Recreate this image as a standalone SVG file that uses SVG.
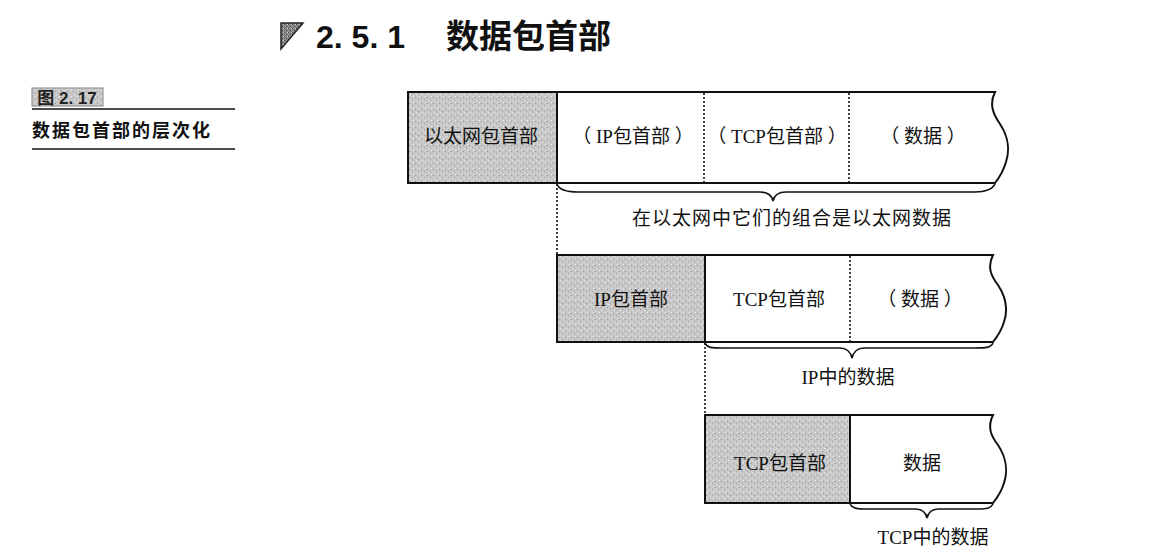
<svg xmlns="http://www.w3.org/2000/svg" width="1149" height="560" viewBox="0 0 1149 560">
<style>
.lbl{font-family:"Liberation Serif","Noto Sans CJK SC",serif;font-size:19px;fill:#111;text-anchor:middle}
.box{stroke:#111;stroke-width:2;fill:#fff}
.hdr{stroke:#111;stroke-width:2;fill:url(#dots)}
.dot{stroke:#111;stroke-width:1.6;stroke-dasharray:2 2;fill:none}
.brace{stroke:#111;stroke-width:1.6;fill:none}
</style>
<defs>
<pattern id="dots" width="6" height="6" patternUnits="userSpaceOnUse">
<rect width="6" height="6" fill="#c8c8c8"/>
<rect x="1" y="1" width="1" height="1" fill="#959595"/>
<rect x="4" y="3" width="1" height="1" fill="#a0a0a0"/>
<rect x="2" y="4" width="1" height="1" fill="#e6e6e6"/>
<rect x="5" y="0" width="1" height="1" fill="#eeeeee"/>
</pattern>
<pattern id="dark" width="4" height="4" patternUnits="userSpaceOnUse">
<rect width="4" height="4" fill="#8a8a8a"/>
<rect x="0" y="0" width="1" height="1" fill="#444"/>
<rect x="2" y="2" width="1" height="1" fill="#444"/>
<rect x="3" y="0" width="1" height="1" fill="#ccc"/>
</pattern>
</defs>
<rect width="1149" height="560" fill="#fff"/>
<g id="title">
<polygon points="281,23 303,23 281,49" fill="url(#dark)" stroke="#222" stroke-width="1.5"/>
<text x="316" y="48" font-family="Liberation Sans,Arial,sans-serif" font-weight="bold" font-size="32" fill="#111">2. 5. 1</text>
<text x="446" y="48" font-family="Noto Sans CJK SC,sans-serif" font-weight="bold" font-size="33" fill="#111">数据包首部</text>
</g>
<g id="caption">
<rect x="32" y="88" width="71" height="18" fill="url(#dots)" stroke="#888" stroke-width="1"/>
<text x="67" y="104" text-anchor="middle" font-family="Liberation Sans,Noto Sans CJK SC,sans-serif" font-weight="bold" font-size="17" fill="#222">图 2. 17</text>
<line x1="32" y1="109" x2="235" y2="109" stroke="#111" stroke-width="1.5"/>
<text x="32" y="137" font-family="Noto Sans CJK SC,sans-serif" font-weight="bold" font-size="18" letter-spacing="2" fill="#111">数据包首部的层次化</text>
<line x1="32" y1="149" x2="235" y2="149" stroke="#111" stroke-width="1.5"/>
</g>
<g id="ethernet-frame">
<path class="box" d="M557,92 H995 C989,104 993,114 1000,124 C1008,136 1010,150 1006,162 C1003,172 999,178 995,183 H557 Z"/>
<rect class="hdr" x="408" y="92" width="149" height="91"/>
<text class="lbl" x="481" y="143">以太网包首部</text>
<text class="lbl" x="633" y="143">（ IP包首部 ）</text>
<text class="lbl" x="777" y="143">（ TCP包首部 ）</text>
<text class="lbl" x="923" y="143">（ 数据 ）</text>
</g>
<g id="ip-packet">
<path class="box" d="M705,255 H993 C987,267 991,276 998,285 C1006,297 1008,310 1004,322 C1001,332 997,337 993,342 H705 Z"/>
<rect class="hdr" x="557" y="255" width="148" height="87"/>
<text class="lbl" x="631" y="306">IP包首部</text>
<text class="lbl" x="779" y="306">TCP包首部</text>
<text class="lbl" x="920" y="306">（ 数据 ）</text>
</g>
<g id="tcp-segment">
<path class="box" d="M850,415 H993 C987,427 991,436 998,445 C1006,457 1008,471 1004,483 C1001,493 997,498 993,503 H850 Z"/>
<rect class="hdr" x="705" y="415" width="145" height="88"/>
<text class="lbl" x="780" y="470">TCP包首部</text>
<text class="lbl" x="922" y="470">数据</text>
</g>
<g id="connectors">
<line class="dot" x1="704" y1="93" x2="704" y2="182"/>
<line class="dot" x1="849" y1="93" x2="849" y2="182"/>
<line class="dot" x1="850" y1="256" x2="850" y2="341"/>
<line class="dot" x1="557" y1="184" x2="557" y2="255"/>
<line class="dot" x1="705" y1="343" x2="705" y2="415"/>
<path class="brace" d="M557,184 C559,190 566,192 578,192 H760 C768,192 772,196 773,201 C774,196 778,192 786,192 H975 C986,192 992,190 995,184"/>
<path class="brace" d="M705,343 C707,348 712,348 722,348 H839 C847,348 851,353 852,358 C853,353 857,348 865,348 H975 C985,348 991,348 993,343"/>
<path class="brace" d="M850,504 C852,508 856,509 864,509 H915 C922,509 926,513 927,518 C928,513 932,509 939,509 H978 C987,509 991,508 993,504"/>
</g>
<g id="brace-labels">
<text class="lbl" x="792" y="225" letter-spacing="1">在以太网中它们的组合是以太网数据</text>
<text class="lbl" x="848" y="384">IP中的数据</text>
<text class="lbl" x="933" y="544">TCP中的数据</text>
</g>
</svg>
